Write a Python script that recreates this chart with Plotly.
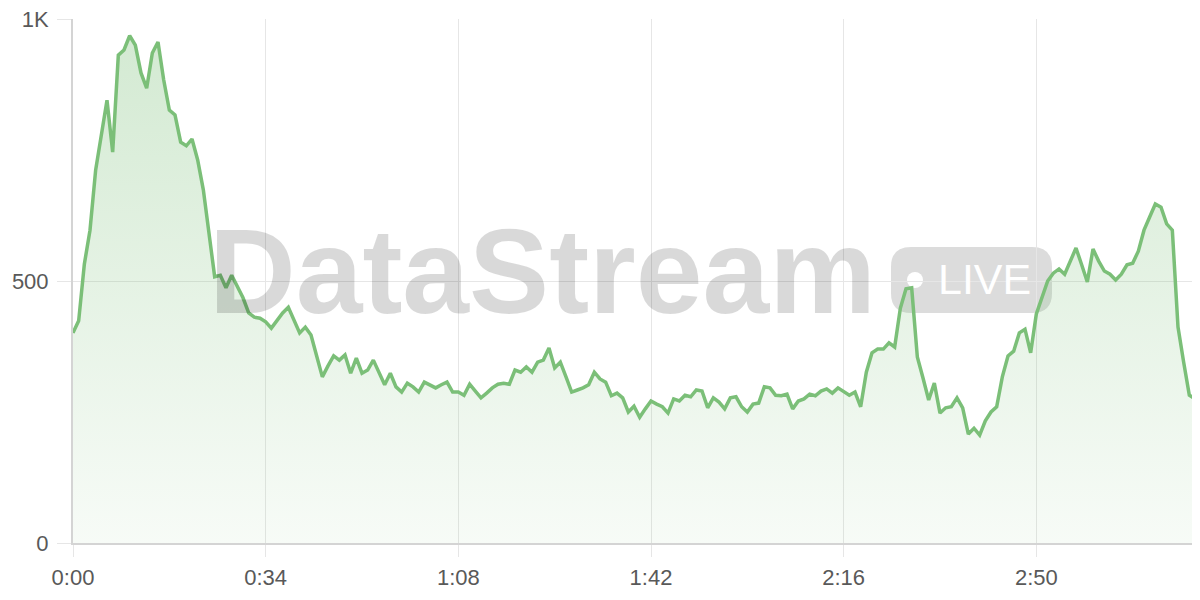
import plotly.graph_objects as go

# seconds since start (one sample per second)
seconds = list(range(199))

# observed values
values = [
    401, 424, 532, 597, 712, 779, 845, 746, 931, 941,
    968, 950, 897, 868, 935, 956, 884, 826, 817, 765,
    758, 771, 731, 674, 584, 508, 511, 487, 511, 489,
    468, 439, 431, 429, 422, 410, 426, 439, 450, 426,
    401, 412, 397, 357, 317, 338, 357, 349, 359, 324,
    353, 324, 330, 349, 326, 302, 324, 298, 288, 305,
    298, 288, 307, 302, 296, 302, 307, 288, 288, 282,
    303, 290, 277, 286, 296, 303, 305, 303, 330, 326,
    336, 326, 345, 349, 372, 334, 345, 317, 288, 292,
    296, 302, 326, 313, 307, 281, 286, 277, 250, 261,
    240, 256, 271, 265, 260, 248, 275, 271, 282, 279,
    292, 290, 258, 277, 269, 256, 277, 279, 260, 250,
    265, 267, 298, 296, 282, 281, 284, 256, 271, 275,
    284, 281, 290, 294, 286, 296, 288, 282, 288, 260,
    326, 363, 370, 370, 382, 374, 448, 485, 487, 355,
    315, 273, 305, 248, 258, 260, 277, 258, 208, 219,
    206, 233, 250, 260, 317, 357, 366, 401, 408, 363,
    437, 471, 500, 515, 523, 513, 540, 563, 531, 498,
    561, 538, 519, 513, 502, 513, 531, 534, 557, 597,
    622, 647, 641, 609, 597, 412, 345, 282, 275,
]

x_tick_vals = [0, 34, 68, 102, 136, 170]
x_tick_text = ["0:00", "0:34", "1:08", "1:42", "2:16", "2:50"]
y_tick_vals = [0, 500, 1000]
y_tick_text = ["0", "500", "1K"]

LINE = "#7bbf78"
GRID = "#e6e6e6"
AXIS = "#d4d4d4"
TXT = "#595959"
FONT = "Liberation Sans, Arial, sans-serif"

# page body has an 8px margin: figure sits at (8, 8) in the window
OFF = 8
W, H = 1200 - OFF, 600 - OFF

fig = go.Figure()
fig.add_trace(go.Scatter(
    x=seconds, y=values, mode="lines",
    line=dict(color=LINE, width=3.5),
    fill="tozeroy",
    fillgradient=dict(type="vertical", start=0, stop=1000,
                      colorscale=[[0, "rgba(123,191,120,0.06)"],
                                  [1, "rgba(123,191,120,0.34)"]]),
    hoverinfo="skip", showlegend=False,
))

# plot-area geometry (window pixels) for the watermark
L, R, T, B = 73, 5, 19, 57
PW, PH = 1200 - L - R, 600 - T - B
def px(xp):
    return (xp - L) / PW
def py(yp):
    return (600 - B - yp) / PH

# LIVE badge (rounded rect) below grid
bx0, bx1, by0, by1 = px(891), px(1052), py(313), py(247)
rx, ry = 20 / PW, 20 / PH
path = (f"M {bx0+rx},{by1} L {bx1-rx},{by1} Q {bx1},{by1} {bx1},{by1-ry} "
        f"L {bx1},{by0+ry} Q {bx1},{by0} {bx1-rx},{by0} "
        f"L {bx0+rx},{by0} Q {bx0},{by0} {bx0},{by0+ry} "
        f"L {bx0},{by1-ry} Q {bx0},{by1} {bx0+rx},{by1} Z")
shapes = [
    dict(type="path", path=path, xref="paper", yref="paper",
         fillcolor="#dcdcdc", line=dict(width=0), layer="below"),
    dict(type="circle", xref="paper", yref="paper",
         x0=px(907), x1=px(923), y0=py(288), y1=py(272),
         fillcolor="white", line=dict(width=0), layer="below"),
]

annotations = [
    dict(text="<b>DataStream</b>", xref="paper", yref="paper",
         x=px(542), y=py(271), xanchor="center", yanchor="middle",
         showarrow=False,
         font=dict(family=FONT, size=120, color="rgba(0,0,0,0.15)")),
    dict(text="LIVE", xref="paper", yref="paper",
         x=px(984), y=py(279), xanchor="center", yanchor="middle",
         showarrow=False,
         font=dict(family=FONT, size=43, color="white")),
]

fig.update_layout(
    width=W, height=H,
    margin=dict(l=L - OFF, r=R, t=T - OFF, b=B, autoexpand=False),
    paper_bgcolor="white", plot_bgcolor="white",
    font=dict(family=FONT, size=22, color=TXT),
    shapes=shapes, annotations=annotations,
)
fig.update_xaxes(
    range=[0, 198], tickvals=x_tick_vals, ticktext=x_tick_text,
    showgrid=True, gridcolor=GRID, gridwidth=1,
    ticks="outside", ticklen=12, tickcolor=GRID, tickwidth=1,
    showline=True, linecolor=AXIS, linewidth=2, zeroline=False,
    tickfont=dict(size=22, color=TXT), ticklabelstandoff=2,
    ticklabeloverflow="allow", automargin=False,
)
fig.update_yaxes(
    range=[0, 1000], tickvals=y_tick_vals, ticktext=y_tick_text,
    showgrid=True, gridcolor=GRID, gridwidth=1,
    ticks="outside", ticklen=14, tickcolor=GRID, tickwidth=1,
    showline=True, linecolor=AXIS, linewidth=2, zeroline=False,
    tickfont=dict(size=22, color=TXT), ticklabelstandoff=4,
    ticklabeloverflow="allow", automargin=False,
)

fig.write_html("out.html", config={"displayModeBar": False})
